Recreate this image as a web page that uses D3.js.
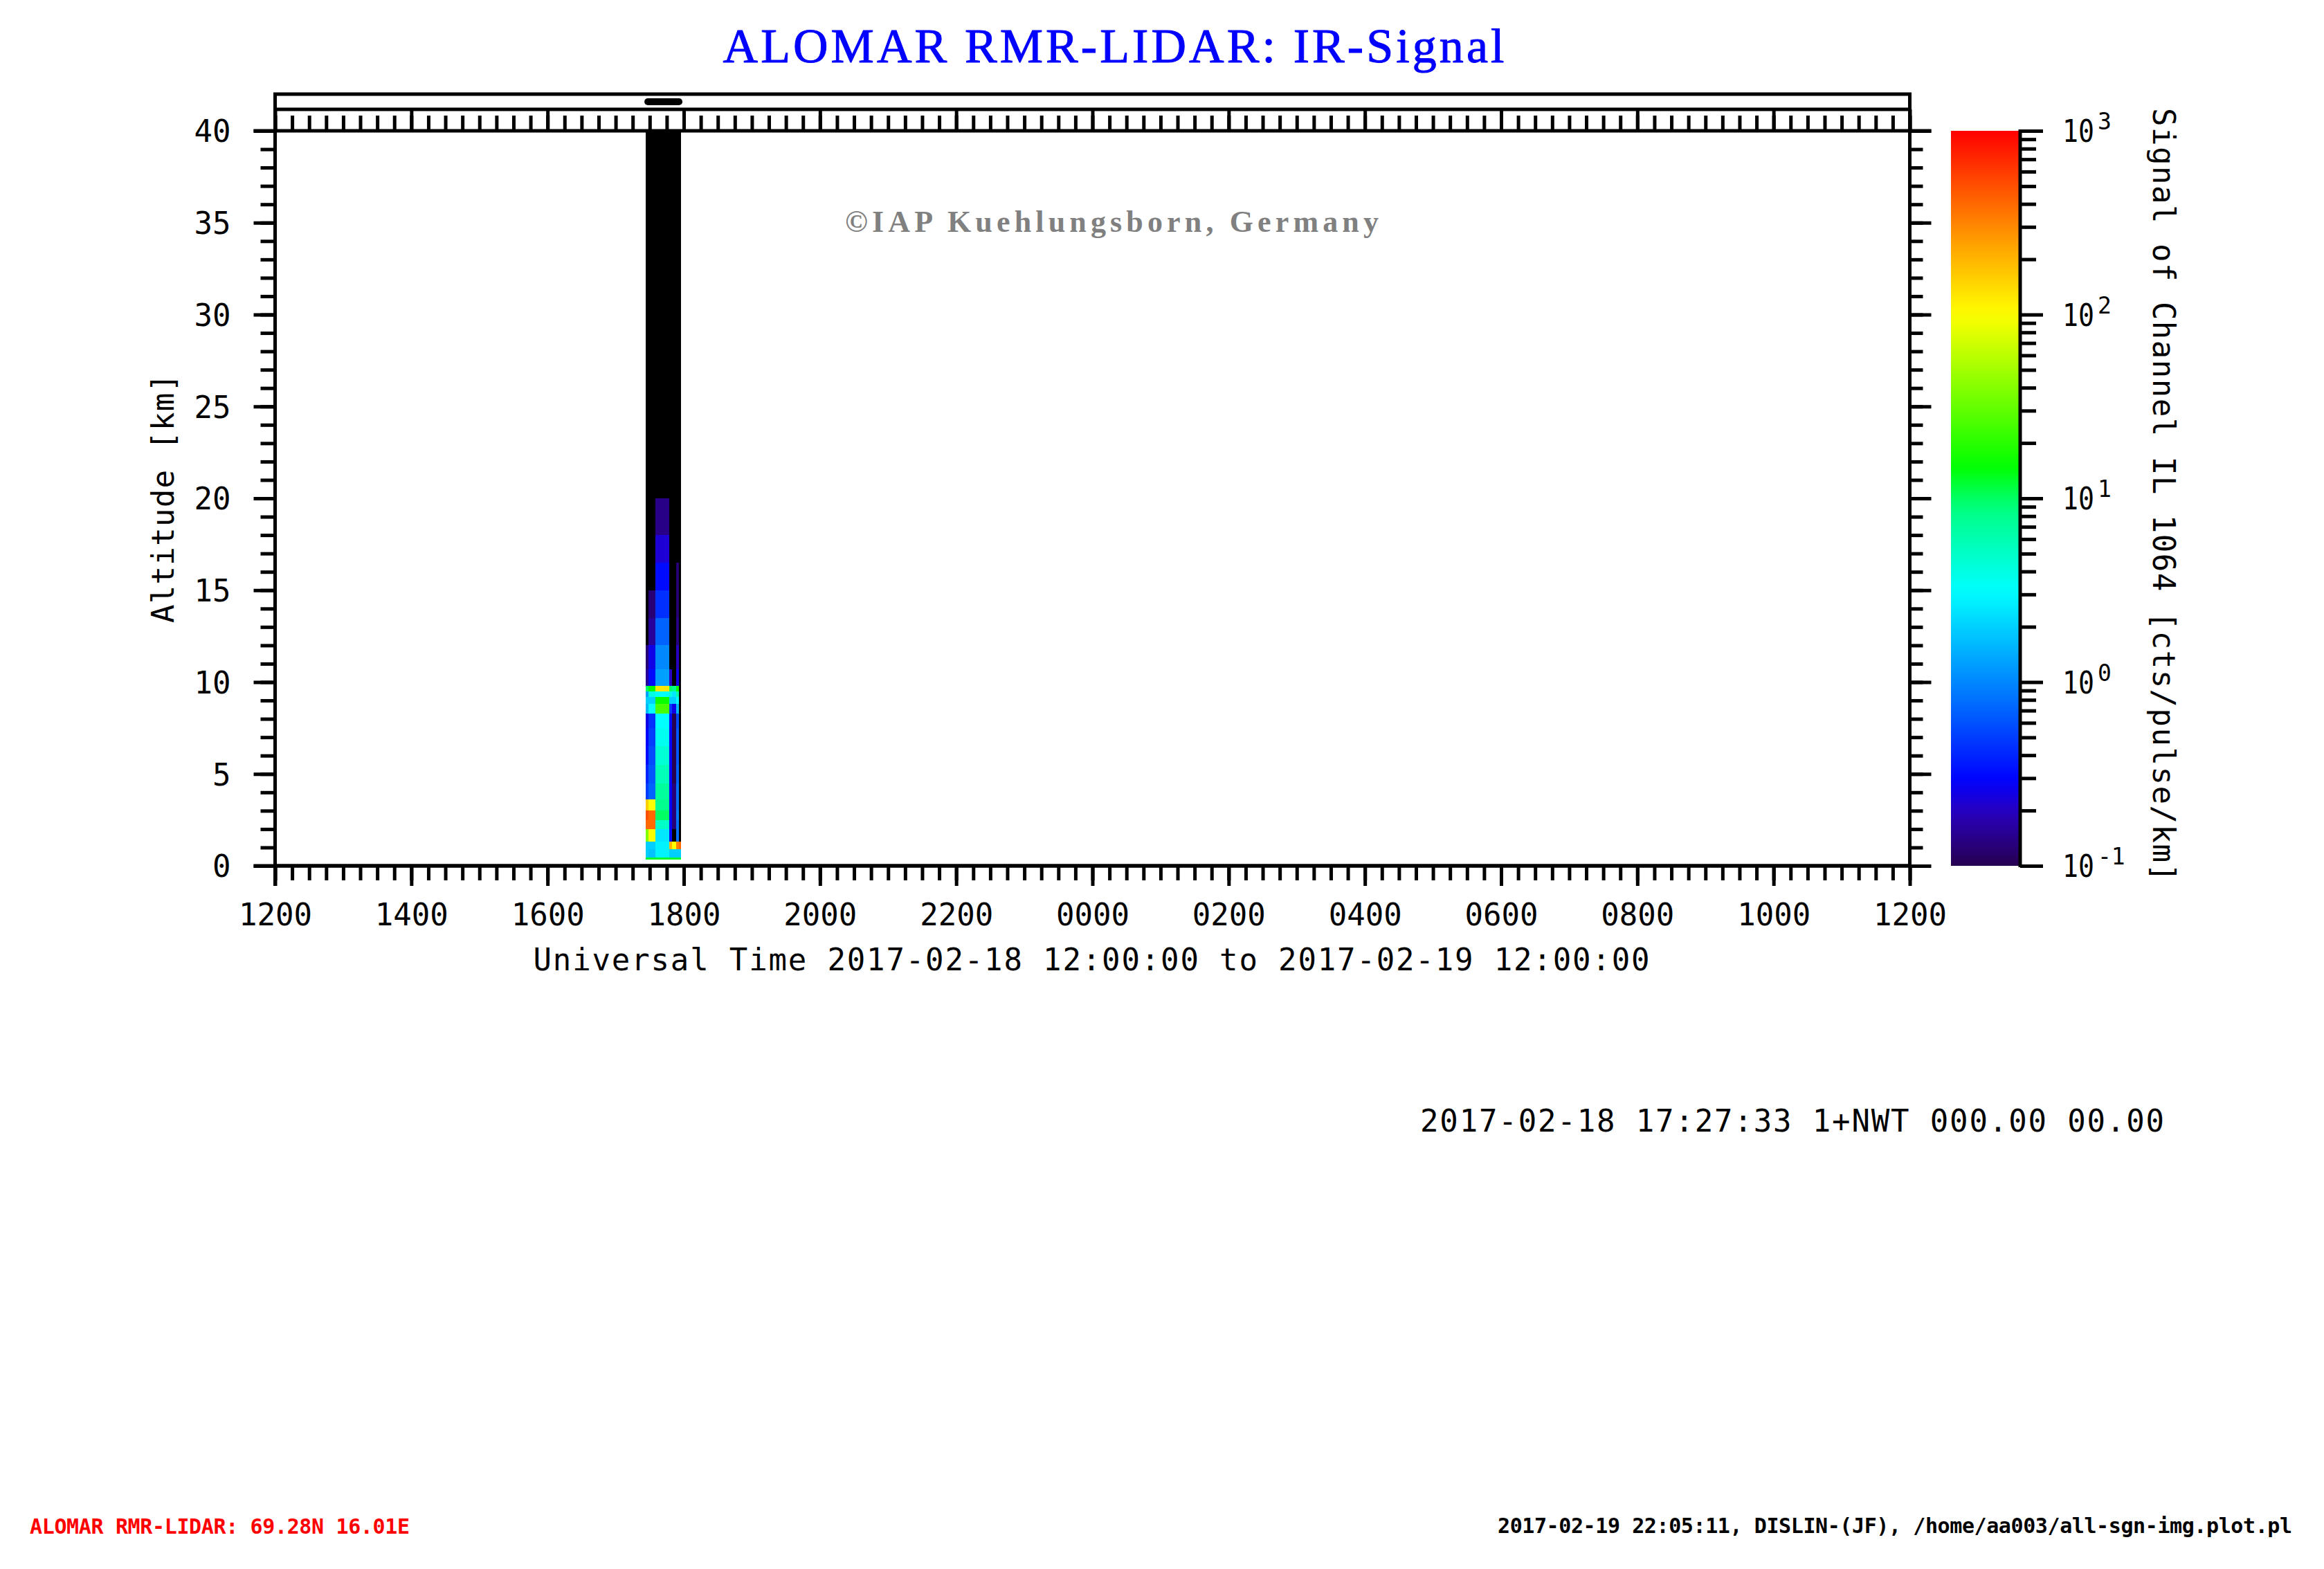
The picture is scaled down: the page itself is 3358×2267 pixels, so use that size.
<!DOCTYPE html>
<html><head><meta charset="utf-8">
<script src="https://cdn.jsdelivr.net/npm/d3@7"></script>
<style>body{margin:0;background:#fff}svg{display:block}</style>
</head><body>
<script>
// ---------------- data ----------------
const titleText = "ALOMAR RMR-LIDAR: IR-Signal";
const copyrightText = "\u00A9IAP Kuehlungsborn, Germany";
const yAxisTitle = "Altitude [km]";
const xAxisTitle = "Universal Time 2017-02-18 12:00:00 to 2017-02-19 12:00:00";
const cbarTitle = "Signal of Channel IL 1064 [cts/pulse/km]";
const infoText = "2017-02-18 17:27:33 1+NWT 000.00 00.00";
const footerLeft = "ALOMAR RMR-LIDAR: 69.28N 16.01E";
const footerRight = "2017-02-19 22:05:11, DISLIN-(JF), /home/aa003/all-sgn-img.plot.pl";

// x axis: hours since 2017-02-18 00:00
const xDomain = [12, 36];
const xMajorTicks = [12, 14, 16, 18, 20, 22, 24, 26, 28, 30, 32, 34, 36];
const xTickLabels = ["1200","1400","1600","1800","2000","2200","0000","0200","0400","0600","0800","1000","1200"];
const yDomain = [0, 40];
const yMajorTicks = [0, 5, 10, 15, 20, 25, 30, 35, 40];
const cbarDomain = [0.1, 1000];
const cbarMajorTicks = [0.1, 1, 10, 100, 1000];
const cbarExponents = ["-1", "0", "1", "2", "3"];

// colour table (log10 value -> colour)
const cmapLog =    [-1,       -0.70,     -0.54,     -0.10,     0.50,      0.95,      1.17,      2.0,       2.39,      3.0];
const cmapColors = ["#280050","#2800c0","#0000ff","#0070ff","#00ffff","#00ff80","#00ff00","#ffff00","#ffa000","#ff0000"];

// profiles: start/end time (UT, 2017-02-18)
const profileStart = ["17:26:30","17:28:55","17:35:00","17:47:10","17:49:40","17:53:20","17:55:45"];
const profileEnd   = ["17:28:55","17:35:00","17:47:10","17:49:40","17:53:20","17:55:45","17:57:35"];
// altitude bin edges (km)
const altEdges = [0.35,0.45,0.9,1.3,2.0,2.5,3.0,3.6,4.5,5.5,6.5,7.5,8.3,8.8,9.2,9.5,9.8,10.7,12,13.5,15,16.5,18,20,21,40];
// log10 signal per bin (values below -1 are under range -> black)
const profA = [1.1,0.3,0.3,1.6,2.6,2.7,2.2,-0.30,-0.40,-0.50,-0.55,-0.60,0.2,0.3,0.1,1.0,-0.80,-0.90,-1.2,-1.5,-2,-2,-2,-2,-2];
const profB = [1.1,0.25,0.3,2.0,2.6,2.6,2.0,-0.15,-0.20,-0.25,-0.30,-0.35,0.5,0.3,0.6,1.2,-0.50,-0.60,-0.80,-0.90,-1.3,-2,-2,-2,-2];
const profC = [1.1,0.45,0.45,0.4,0.7,1.0,0.9,0.85,0.75,0.65,0.55,0.50,1.4,1.2,0.5,2.1,0.10,0.00,-0.15,-0.35,-0.50,-0.65,-0.85,-1.3,-2];
const profD = [1.1,0.3,2.3,-0.50,-0.55,-0.55,-0.55,-0.55,-0.55,-0.55,-0.55,-0.50,-0.3,0.3,0.6,1.0,-0.70,-1.3,-2,-2,-2,-2,-2,-2,-2];
const profE = [1.1,0.3,2.0,-1.2,-0.90,-0.90,-0.90,-0.90,-1.0,-1.0,-1.0,-1.0,-0.6,0.3,0.4,0.9,-1.3,-1.5,-2,-2,-2,-2,-2,-2,-2];
const profF = [1.1,0.3,2.5,-0.10,-0.10,-0.05,-0.10,-0.10,-0.15,-0.20,-0.20,-0.25,0.2,0.5,0.8,1.2,-0.60,-0.70,-0.85,-0.90,-0.90,-2,-2,-2,-2];
const profG = [1.1,0.3,2.6,-2,-2,-2,-2,-2,-2,-2,-2,-2,-2,-2,-2,-2,-2,-2,-2,-2,-2,-2,-2,-2,-2];
const profiles = [profA, profB, profC, profD, profE, profF, profG];

// ---------------- drawing ----------------
const W = 3358, H = 2267;
const MONO = "'DejaVu Sans Mono', monospace";
const SERIF = "'Liberation Serif', serif";
const svg = d3.select("body").append("svg").attr("width", W).attr("height", H)
  .style("background", "#fff");

const pL = 397.5, pR = 2759.5, pT = 189, pB = 1251;
const stripTop = 136, stripMid = 158;
const LW = 5;

const x = d3.scaleLinear().domain(xDomain).range([pL, pR]);
const y = d3.scaleLinear().domain(yDomain).range([pB, pT]);
const cY = d3.scaleLog().domain(cbarDomain).range([pB, pT]);
const color = d3.scaleLinear().domain(cmapLog).range(cmapColors).interpolate(d3.interpolateRgb).clamp(true);
const hrs = s => { const p = s.split(":").map(Number); return p[0] + p[1]/60 + p[2]/3600; };

// heatmap
const heat = svg.append("g").attr("shape-rendering", "crispEdges");
profiles.forEach((vals, i) => {
  const x0 = x(hrs(profileStart[i])), x1 = x(hrs(profileEnd[i]));
  vals.forEach((v, j) => {
    heat.append("rect")
      .attr("x", x0).attr("width", x1 - x0)
      .attr("y", y(altEdges[j+1])).attr("height", y(altEdges[j]) - y(altEdges[j+1]))
      .attr("fill", v < -1 ? "#000" : color(v));
  });
});

// measurement marker in top strip
svg.append("line")
  .attr("x1", x(hrs(profileStart[0])) + 3).attr("x2", x(hrs(profileEnd[profileEnd.length-1])) - 3)
  .attr("y1", 147).attr("y2", 147)
  .attr("stroke", "#000").attr("stroke-width", 10).attr("stroke-linecap", "round");

function styleAxis(g) {
  g.select(".domain").remove();
  g.selectAll(".tick line").attr("stroke", "#000").attr("stroke-width", LW);
  g.selectAll("text").attr("font-family", MONO).attr("font-size", 44).attr("fill", "#000");
}
const minorX = d3.range(xDomain[0], xDomain[1] + 0.001, 0.25);
const minorY = d3.range(0, 41, 1);

// bottom axis
svg.append("g").attr("transform", `translate(0,${pB})`)
  .call(d3.axisBottom(x).tickValues(minorX).tickSize(21).tickFormat(""))
  .call(styleAxis);
svg.append("g").attr("transform", `translate(0,${pB})`)
  .call(d3.axisBottom(x).tickValues(xMajorTicks).tickSize(29).tickFormat((d, i) => xTickLabels[i]))
  .call(styleAxis)
  .call(g => g.selectAll("text").attr("y", 86).attr("dy", null));
// top strip ticks
svg.append("g").attr("transform", `translate(0,${pT})`)
  .call(d3.axisTop(x).tickValues(minorX).tickSize(pT - 167).tickFormat(""))
  .call(styleAxis);
svg.append("g").attr("transform", `translate(0,${pT})`)
  .call(d3.axisTop(x).tickValues(xMajorTicks).tickSize(pT - stripMid).tickFormat(""))
  .call(styleAxis);
// left axis
svg.append("g").attr("transform", `translate(${pL},0)`)
  .call(d3.axisLeft(y).tickValues(minorY).tickSize(21).tickFormat(""))
  .call(styleAxis);
svg.append("g").attr("transform", `translate(${pL},0)`)
  .call(d3.axisLeft(y).tickValues(yMajorTicks).tickSize(31).tickFormat(d => d))
  .call(styleAxis)
  .call(g => g.selectAll("text").attr("x", -64).attr("dy", "0.36em"));
// right axis
svg.append("g").attr("transform", `translate(${pR},0)`)
  .call(d3.axisRight(y).tickValues(minorY).tickSize(19).tickFormat(""))
  .call(styleAxis);
svg.append("g").attr("transform", `translate(${pR},0)`)
  .call(d3.axisRight(y).tickValues(yMajorTicks).tickSize(31).tickFormat(""))
  .call(styleAxis);

// frame
const frame = svg.append("g").attr("stroke", "#000").attr("stroke-width", LW).attr("fill", "none");
frame.append("rect").attr("x", pL).attr("y", stripTop).attr("width", pR - pL).attr("height", pB - stripTop);
frame.append("line").attr("x1", pL).attr("x2", pR).attr("y1", stripMid).attr("y2", stripMid);
frame.append("line").attr("x1", pL - 31).attr("x2", pR + 31).attr("y1", pT).attr("y2", pT);
frame.append("line").attr("x1", pL - 31).attr("x2", pR).attr("y1", pB).attr("y2", pB);
frame.append("line").attr("x1", pL).attr("x2", pL).attr("y1", stripTop).attr("y2", pB + 29);

// colour bar
const cbX0 = 2819, cbX1 = 2917;
const defs = svg.append("defs");
const grad = defs.append("linearGradient").attr("id", "cbar").attr("x1", 0).attr("y1", 1).attr("x2", 0).attr("y2", 0);
d3.range(0, 1.0001, 0.02).forEach(f => {
  grad.append("stop").attr("offset", f).attr("stop-color", color(-1 + 4 * f));
});
svg.append("rect").attr("x", cbX0).attr("y", pT).attr("width", cbX1 - cbX0).attr("height", pB - pT).attr("fill", "url(#cbar)");
const cMinor = [];
for (let e = -1; e < 3; e++) for (let m = 2; m <= 9; m++) cMinor.push(m * Math.pow(10, e));
svg.append("g").attr("transform", `translate(${cbX1 + 2},0)`)
  .call(d3.axisRight(cY).tickValues(cMinor).tickSize(23).tickFormat(""))
  .call(styleAxis);
svg.append("g").attr("transform", `translate(${cbX1 + 2},0)`)
  .call(d3.axisRight(cY).tickValues(cbarMajorTicks).tickSize(33).tickFormat(""))
  .call(styleAxis);
svg.append("line").attr("x1", cbX1 + 2).attr("x2", cbX1 + 2).attr("y1", pT - 2).attr("y2", pB + 2)
  .attr("stroke", "#000").attr("stroke-width", LW);
const cl = svg.append("g").attr("font-family", MONO).attr("fill", "#000");
cbarMajorTicks.forEach((v, i) => {
  cl.append("text").attr("x", 2980).attr("y", cY(v) + 16).attr("font-size", 44)
    .attr("textLength", 46).attr("lengthAdjust", "spacingAndGlyphs").text("10");
  cl.append("text").attr("x", 3031).attr("y", cY(v) - 2).attr("font-size", 33).text(cbarExponents[i]);
});

// texts
svg.append("text").attr("x", 1609).attr("y", 90).attr("text-anchor", "middle")
  .attr("font-family", SERIF).attr("font-size", 70).attr("fill", "#0000ff")
  .attr("stroke", "#0000ff").attr("stroke-width", 1)
  .attr("textLength", 1129).attr("lengthAdjust", "spacing").text(titleText);
svg.append("text").attr("x", 1221).attr("y", 335)
  .attr("font-family", SERIF).attr("font-weight", "bold").attr("font-size", 44).attr("fill", "#808080")
  .attr("textLength", 771).attr("lengthAdjust", "spacing").text(copyrightText);
svg.append("text").attr("transform", `translate(251,${(pT + pB) / 2}) rotate(-90)`).attr("text-anchor", "middle")
  .attr("font-family", MONO).attr("font-size", 44).attr("textLength", 360).attr("lengthAdjust", "spacing").text(yAxisTitle);
svg.append("text").attr("x", 1577).attr("y", 1402).attr("text-anchor", "middle")
  .attr("font-family", MONO).attr("font-size", 44).attr("textLength", 1613).attr("lengthAdjust", "spacing").text(xAxisTitle);
svg.append("text").attr("transform", `translate(3111,${(pT + pB) / 2 - 5}) rotate(90)`).attr("text-anchor", "middle")
  .attr("font-family", MONO).attr("font-size", 44).attr("textLength", 1118).attr("lengthAdjust", "spacing").text(cbarTitle);
svg.append("text").attr("x", 2052).attr("y", 1635)
  .attr("font-family", MONO).attr("font-size", 44).attr("textLength", 1075).attr("lengthAdjust", "spacing").text(infoText);
svg.append("text").attr("x", 43).attr("y", 2216)
  .attr("font-family", MONO).attr("font-weight", "bold").attr("font-size", 30).attr("fill", "#ff0000")
  .attr("textLength", 549).attr("lengthAdjust", "spacing").text(footerLeft);
svg.append("text").attr("x", 2164).attr("y", 2215)
  .attr("font-family", MONO).attr("font-weight", "bold").attr("font-size", 30).attr("fill", "#000")
  .attr("textLength", 1148).attr("lengthAdjust", "spacing").text(footerRight);
</script>
</body></html>
